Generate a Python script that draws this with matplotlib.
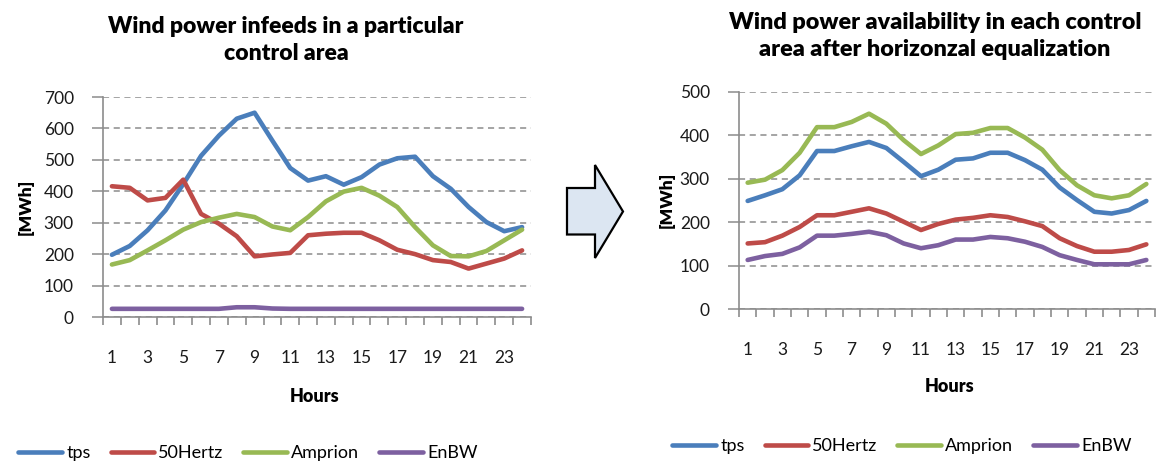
import matplotlib
matplotlib.use("Agg")
import matplotlib.pyplot as plt
from matplotlib.patches import Polygon
import numpy as np

plt.rcParams['font.family'] = ['Lato', 'DejaVu Sans']

hours = list(range(1, 25))
series_names = ["tps", "50Hertz", "Amprion", "EnBW"]
colors = ["#4A7EBB", "#BE4B48", "#98B954", "#7D60A0"]

# Hourly wind power infeeds per control area [MWh]
infeed_tps = [198, 226, 276, 339, 423, 513, 577, 631, 650, 561, 474, 434,
              448, 421, 445, 485, 505, 510, 448, 408, 350, 302, 273, 286]
infeed_50hertz = [416, 411, 371, 379, 437, 328, 297, 257, 193, 199, 204, 260,
                  265, 268, 268, 244, 214, 200, 181, 175, 154, 170, 186, 212]
infeed_amprion = [167, 181, 212, 244, 278, 302, 316, 328, 318, 288, 276, 318,
                  368, 399, 411, 386, 350, 286, 228, 194, 193, 210, 244, 278]
infeed_enbw = [26, 26, 26, 26, 26, 26, 26, 31, 31, 27, 26, 26,
               26, 26, 26, 26, 26, 26, 26, 26, 26, 26, 26, 26]

# Availability after horizontal equalization [MWh]
avail_tps = [249, 262, 276, 308, 364, 364, 375, 385, 371, 339, 306, 321,
             344, 347, 360, 360, 343, 321, 280, 251, 224, 220, 228, 249]
avail_50hertz = [151, 154, 169, 189, 216, 216, 224, 232, 220, 201, 182, 196,
                 206, 210, 216, 212, 202, 191, 163, 145, 132, 132, 136, 149]
avail_amprion = [291, 298, 320, 360, 419, 419, 431, 450, 427, 389, 357, 377,
                 403, 406, 417, 417, 395, 367, 320, 285, 262, 255, 262, 288]
avail_enbw = [113, 122, 127, 142, 169, 169, 173, 178, 170, 151, 140, 147,
              160, 160, 166, 163, 155, 143, 124, 113, 103, 103, 103, 113]

left_title = "Wind power infeeds in a particular\ncontrol area"
right_title = "Wind power availability in each control\narea after horizonzal equalization"

W, H = 1166, 466
fig = plt.figure(figsize=(W / 100, H / 100), dpi=100)


def px_axes(x0, y_top, x1, y_bot):
    return fig.add_axes([x0 / W, 1 - y_bot / H, (x1 - x0) / W, (y_bot - y_top) / H])


def style_axes(ax, ymax, ystep):
    ax.set_xlim(0.5, 24.5)
    ax.set_ylim(0, ymax)
    ax.set_yticks(np.arange(0, ymax + 1, ystep))
    ax.yaxis.grid(True, linestyle=(0, (4, 3)), color="#8c8c8c", linewidth=1.1)
    ax.set_axisbelow(True)
    for s in ("top", "right"):
        ax.spines[s].set_visible(False)
    for s in ("left", "bottom"):
        ax.spines[s].set_color("#8c8c8c")
        ax.spines[s].set_linewidth(1.2)
    # category boundaries carry the tick marks, odd hours carry the labels
    ax.set_xticks(np.arange(0.5, 25, 1))
    ax.set_xticklabels([])
    ax.set_xticks(hours[::2], minor=True)
    ax.set_xticklabels([str(h) for h in hours[::2]], minor=True)
    ax.tick_params(axis="x", which="major", direction="out", length=6,
                   color="#8c8c8c", width=1.2)
    ax.tick_params(axis="x", which="minor", length=0, pad=24,
                   labelsize=12.5, labelcolor="#1a1a1a")
    ax.tick_params(axis="y", direction="out", length=8, color="#8c8c8c",
                   width=1.1, pad=13, labelsize=12.5, labelcolor="#1a1a1a")


# Left chart
ax1 = px_axes(103, 97, 531, 317)
for vals, name, c in zip([infeed_tps, infeed_50hertz, infeed_amprion, infeed_enbw],
                         series_names, colors):
    ax1.plot(hours, vals, color=c, lw=3.3, label=name, solid_capstyle="round")
style_axes(ax1, 700, 100)

# Right chart
ax2 = px_axes(739, 92, 1155, 309)
for vals, name, c in zip([avail_tps, avail_50hertz, avail_amprion, avail_enbw],
                         series_names, colors):
    ax2.plot(hours, vals, color=c, lw=3.3, label=name, solid_capstyle="round")
style_axes(ax2, 500, 100)

# Titles and axis labels
fig.text(286 / W, 1 - 40 / H, left_title, ha="center", va="center",
         fontsize=16.5, fontweight="heavy", linespacing=1.4)
fig.text(935 / W, 1 - 36 / H, right_title, ha="center", va="center",
         fontsize=16.8, fontweight="heavy", linespacing=1.4)
fig.text(315 / W, 1 - 396 / H, "Hours", ha="center", va="center",
         fontsize=13, fontweight="heavy")
fig.text(950 / W, 1 - 387 / H, "Hours", ha="center", va="center",
         fontsize=13, fontweight="heavy")
fig.text(26 / W, 1 - 207 / H, "[MWh]", ha="center", va="center",
         fontsize=12.5, fontweight="heavy", rotation=90)
fig.text(667 / W, 1 - 200 / H, "[MWh]", ha="center", va="center",
         fontsize=12.5, fontweight="heavy", rotation=90)

# Legends
leg_kw = dict(loc="center", ncol=4, frameon=False, fontsize=13,
              handlelength=2.4, handletextpad=0.25, columnspacing=1.1,
              borderpad=0, borderaxespad=0)
ax1.legend(bbox_to_anchor=(248 / W, 1 - 453 / H), bbox_transform=fig.transFigure, **leg_kw)
ax2.legend(bbox_to_anchor=(902 / W, 1 - 446 / H), bbox_transform=fig.transFigure, **leg_kw)

# Block arrow between the two charts
arrow_px = [(567, 188), (595, 188), (595, 165), (623, 211.5),
            (595, 258), (595, 234.5), (567, 234.5)]
arrow = Polygon([(x / W, 1 - y / H) for x, y in arrow_px], closed=True,
                transform=fig.transFigure, facecolor="#dce6f2",
                edgecolor="black", linewidth=1.6, joinstyle="miter")
fig.patches.append(arrow)

fig.savefig("out.png", dpi=100)
